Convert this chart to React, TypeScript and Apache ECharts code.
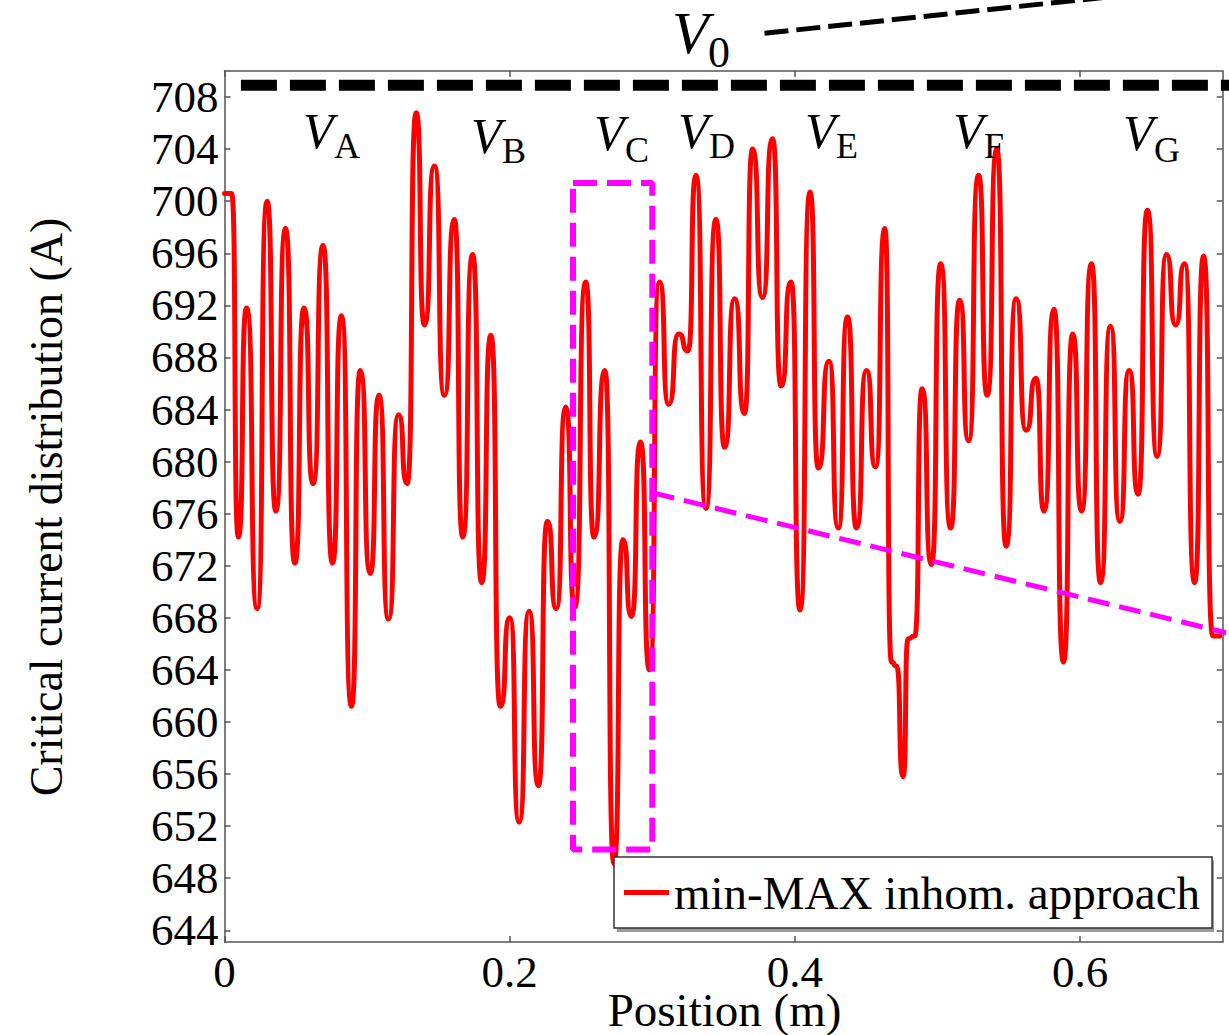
import React, { useEffect, useRef } from "react";
import * as echarts from "echarts";

// Position along the conductor (m)
const positions = [
  0, 0.005, 0.0097, 0.0155, 0.0229, 0.0299, 0.036, 0.0428, 0.0493, 0.0558, 0.0621, 0.0691, 0.0757, 0.082, 0.089, 0.0952, 0.1022, 0.1083, 0.115, 0.122, 0.1281, 0.1344,
  0.1402, 0.1472, 0.1542, 0.1612, 0.167, 0.174, 0.1803, 0.1868, 0.1934, 0.2001, 0.2066, 0.2136, 0.2201, 0.2264, 0.2327, 0.2393, 0.2456, 0.2533, 0.2591, 0.2668, 0.2731, 0.2794,
  0.2854, 0.2917, 0.298, 0.305, 0.3115, 0.3185, 0.325, 0.3306, 0.3376, 0.3446, 0.3507, 0.3577, 0.3647, 0.3703, 0.3773, 0.3843, 0.3903, 0.3973, 0.4036, 0.4106, 0.4164,
  0.4239, 0.4304, 0.4369, 0.4432, 0.4502, 0.4565, 0.4631, 0.4677, 0.4712, 0.4759, 0.4794, 0.484, 0.4892, 0.4957, 0.5022, 0.5092, 0.5155, 0.5218, 0.5288, 0.5348, 0.5416, 0.5481, 0.5551,
  0.5621, 0.5691, 0.5747, 0.5817, 0.5883, 0.5948, 0.601, 0.608, 0.6143, 0.6213, 0.6278, 0.6344, 0.6407, 0.6472, 0.654, 0.6605, 0.667, 0.6733, 0.6803, 0.6866, 0.6931, 0.698,
];

// Critical current (A)
const currents = [
  700.6, 700.6, 674.2, 691.8, 668.7, 700.0, 676.2, 697.9, 672.2, 691.8, 678.3, 696.6, 672.2, 691.2, 661.2, 687.0, 671.4, 685.1, 667.9, 683.6, 678.3, 706.8,
  690.5, 702.7, 685.1, 698.6, 674.2, 695.9, 670.7, 689.7, 661.2, 668.0, 652.3, 668.5, 655.1, 675.4, 668.7, 684.2, 668.8, 693.8, 674.2, 687.0, 649.1, 674.0,
  668.1, 681.5, 664.0, 693.8, 684.4, 689.8, 688.5, 702.0, 676.4, 698.6, 681.1, 692.5, 683.7, 704.0, 692.6, 704.8, 685.8, 693.8, 668.6, 700.7, 679.5,
  687.7, 674.9, 691.1, 674.9, 687.0, 679.6, 697.9, 664.6, 664.3, 655.8, 666.4, 666.6, 685.6, 672.1, 695.2, 674.9, 692.4, 681.6, 702.0, 685.1, 704.0, 673.5, 692.5,
  682.4, 686.4, 676.2, 691.7, 664.6, 689.8, 676.2, 695.2, 670.7, 690.4, 675.4, 687.0, 677.5, 699.3, 680.4, 695.9, 690.5, 695.2, 670.7, 695.8, 666.6, 666.6,
];

const yTicks = [644, 648, 652, 656, 660, 664, 668, 672, 676, 680, 684, 688, 692, 696, 700, 704, 708];
const xTicks = [0, 0.2, 0.4, 0.6];

// V0 reference level and annotation lines (data coordinates)
const v0Level = 708.9;
const v0SpanX = [0.0115, 0.7045];
const v0PointerX = [0.3787, 0.647];
const v0PointerY = [712.9, 716.0];
const zoomBoxX = [0.2444, 0.3];
const zoomBoxY = [650.2, 701.4];
const zoomPointerX = [0.3003, 0.7045];
const zoomPointerY = [677.6, 666.8];

const segmentLabels = ["A", "B", "C", "D", "E", "F", "G"];
const legendName = "min-MAX inhom. approach";

const FONT = "'Liberation Serif', 'Times New Roman', serif";

// [V left, V baseline, subscript left, subscript baseline] in px
const labelLayout = [
  [303, 148, 334, 158],
  [471, 153, 502, 163],
  [594, 150, 625, 162],
  [678, 148, 709, 158],
  [805, 148, 836, 158],
  [953, 148, 984, 158],
  [1123, 150, 1154, 162],
];

function vText(sub: string, l: number[], vSize: number, sSize: number) {
  return [
    {
      type: "text",
      x: l[0],
      y: l[1] - 0.34 * vSize,
      z: 20,
      style: { text: "V", fontFamily: FONT, fontStyle: "italic", fontSize: vSize, lineHeight: Math.round(vSize * 0.7), fill: "#000", align: "left", verticalAlign: "middle" },
    },
    {
      type: "text",
      x: l[2],
      y: l[3] - 0.34 * sSize,
      z: 20,
      style: { text: sub, fontFamily: FONT, fontSize: sSize, lineHeight: Math.round(sSize * 0.7), fill: "#000", align: "left", verticalAlign: "middle" },
    },
  ];
}

export default function App() {
  const ref = useRef<HTMLDivElement>(null);
  useEffect(() => {
    if (!ref.current) return;
    const chart = echarts.init(ref.current, null, { renderer: "svg" });
    const axisLineStyle = { color: "#555", width: 1.5 };
    const graphics: any[] = [
      { type: "rect", shape: { x: 617, y: 860, width: 597, height: 72 }, style: { fill: "#9a9a9a" }, z: 9 },
      {
        type: "text",
        x: 46,
        y: 507,
        rotation: Math.PI / 2,
        z: 20,
        style: { text: "Critical current distribution (A)", fontFamily: FONT, fontSize: 46, fill: "#000", align: "center", verticalAlign: "middle" },
      },
      {
        type: "text",
        x: 724.5,
        y: 1010,
        z: 20,
        style: { text: "Position (m)", fontFamily: FONT, fontSize: 47, lineHeight: 30, fill: "#000", align: "center", verticalAlign: "middle" },
      },
    ];
    segmentLabels.forEach((s, i) => graphics.push(...vText(s, labelLayout[i], 50, 36)));
    graphics.push(...vText("0", [672, 53, 708, 67], 60, 44));

    chart.setOption({
      animation: false,
      backgroundColor: "#fff",
      grid: { left: 224.5, top: 71, right: 6.3, bottom: 93, containLabel: false, outerBoundsMode: "none" },
      legend: {
        show: true,
        data: [legendName],
        left: 614,
        top: 857,
        orient: "horizontal",
        padding: [12, 12, 12, 10],
        itemWidth: 45,
        itemHeight: 5,
        icon: "rect",
        backgroundColor: "#fff",
        borderColor: "#333",
        borderWidth: 1.5,
        borderRadius: 0,
        selectedMode: false,
        z: 10,
        textStyle: { fontFamily: FONT, fontSize: 47, color: "#000", lineHeight: 46 },
      },
      xAxis: [
        {
          type: "value",
          min: 0,
          max: 0.7,
          position: "bottom",
          axisLine: { show: true, onZero: false, lineStyle: axisLineStyle },
          axisTick: { show: true, inside: true, length: 6, customValues: xTicks, lineStyle: axisLineStyle },
          axisLabel: { show: true, customValues: xTicks, fontFamily: FONT, fontSize: 45, lineHeight: 30, color: "#000", margin: 15 },
          splitLine: { show: false },
        },
        {
          type: "value",
          min: 0,
          max: 0.7,
          position: "top",
          axisLine: { show: true, onZero: false, lineStyle: axisLineStyle },
          axisTick: { show: true, inside: true, length: 6, customValues: xTicks, lineStyle: axisLineStyle },
          axisLabel: { show: false },
          splitLine: { show: false },
        },
      ],
      yAxis: [
        {
          type: "value",
          min: 643.1,
          max: 710,
          position: "left",
          axisLine: { show: true, onZero: false, lineStyle: axisLineStyle },
          axisTick: { show: true, inside: true, length: 6, customValues: yTicks, lineStyle: axisLineStyle },
          axisLabel: { show: true, customValues: yTicks, fontFamily: FONT, fontSize: 45, color: "#000", margin: 6, padding: [8, 0, 0, 0] },
          splitLine: { show: false },
        },
        {
          type: "value",
          min: 643.1,
          max: 710,
          position: "right",
          axisLine: { show: true, onZero: false, lineStyle: axisLineStyle },
          axisTick: { show: true, inside: true, length: 6, customValues: yTicks, lineStyle: axisLineStyle },
          axisLabel: { show: false },
          splitLine: { show: false },
        },
      ],
      series: [
        {
          type: "line",
          name: legendName,
          data: positions.map((p, i) => [p, currents[i]]),
          symbol: "none",
          showSymbol: false,
          smooth: 0.75,
          smoothMonotone: "x",
          itemStyle: { color: "#ff0000" },
          lineStyle: { color: "#ff0000", width: 5, join: "round", cap: "round" },
          z: 3,
        },
        {
          type: "line",
          name: "V0 level",
          data: v0SpanX.map((x) => [x, v0Level]),
          symbol: "none",
          clip: false,
          silent: true,
          lineStyle: { color: "#000", width: 11, type: [36, 13] },
          z: 4,
        },
        {
          type: "line",
          name: "V0 pointer",
          data: v0PointerX.map((x, i) => [x, v0PointerY[i]]),
          symbol: "none",
          clip: false,
          silent: true,
          lineStyle: { color: "#000", width: 5, type: [24, 8] },
          z: 4,
        },
        {
          type: "line",
          name: "zoom box",
          data: [
            [zoomBoxX[0], zoomBoxY[1]],
            [zoomBoxX[1], zoomBoxY[1]],
            [zoomBoxX[1], zoomBoxY[0]],
            [zoomBoxX[0], zoomBoxY[0]],
            [zoomBoxX[0], zoomBoxY[1]],
          ],
          symbol: "none",
          clip: false,
          silent: true,
          lineStyle: { color: "#ff00ff", width: 6, type: [24, 10] },
          z: 5,
        },
        {
          type: "line",
          name: "zoom pointer",
          data: zoomPointerX.map((x, i) => [x, zoomPointerY[i]]),
          symbol: "none",
          clip: false,
          silent: true,
          lineStyle: { color: "#ff00ff", width: 5, type: [22, 10] },
          z: 5,
        },
      ],
      graphic: graphics,
    });
    return () => chart.dispose();
  }, []);
  return (
    <div
      ref={ref}
      style={{ position: "absolute", left: 0, top: 0, width: 1229, height: 1035, background: "#fff" }}
    />
  );
}
